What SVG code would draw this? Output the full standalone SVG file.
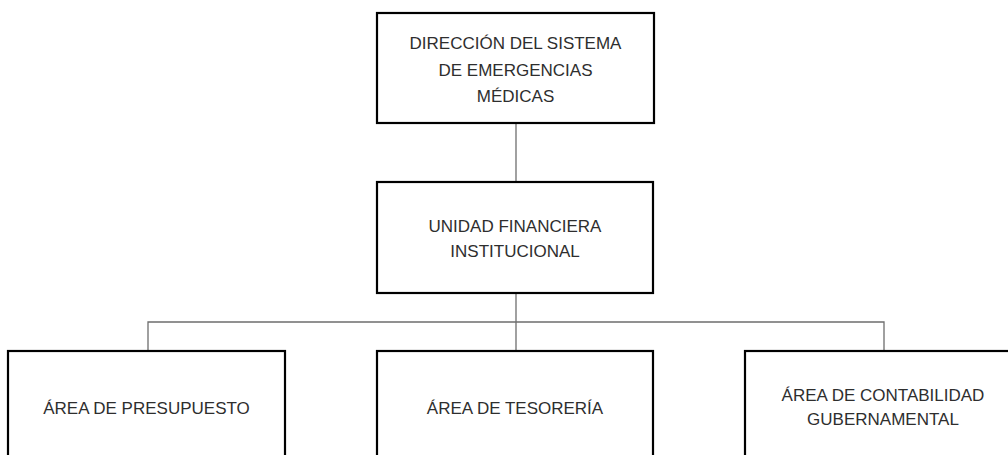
<svg xmlns="http://www.w3.org/2000/svg" width="1008" height="455" viewBox="0 0 1008 455">
<style>
.box{fill:#fff;stroke:#000;stroke-width:2.2}
.t{font-family:"Liberation Sans",Arial,sans-serif;font-size:17px;fill:#2e2e2e;text-anchor:middle}
.c{stroke:#6e6e6e;stroke-width:1.3;fill:none}
</style>
<rect width="1008" height="455" fill="#fff"/>
<g id="connectors">
<line class="c" x1="516" y1="123" x2="516" y2="182"/>
<line class="c" x1="516" y1="293" x2="516" y2="351"/>
<polyline class="c" points="148,351 148,322 884,322 884,351"/>
</g>
<g id="n1">
<rect class="box" x="377" y="13" width="277" height="110"/>
<text class="t" x="515.5" y="49">DIRECCIÓN DEL SISTEMA</text>
<text class="t" x="515.5" y="75.5">DE EMERGENCIAS</text>
<text class="t" x="515.5" y="102">MÉDICAS</text>
</g>
<g id="n2">
<rect class="box" x="377" y="182" width="276" height="111"/>
<text class="t" x="515" y="232">UNIDAD FINANCIERA</text>
<text class="t" x="515" y="257">INSTITUCIONAL</text>
</g>
<g id="n3">
<rect class="box" x="8" y="351" width="277" height="120"/>
<text class="t" x="146.5" y="414">ÁREA DE PRESUPUESTO</text>
</g>
<g id="n4">
<rect class="box" x="377" y="351" width="276" height="120"/>
<text class="t" x="515" y="414">ÁREA DE TESORERÍA</text>
</g>
<g id="n5">
<rect class="box" x="745" y="351" width="277" height="120"/>
<text class="t" x="883" y="401">ÁREA DE CONTABILIDAD</text>
<text class="t" x="883" y="425">GUBERNAMENTAL</text>
</g>
</svg>
